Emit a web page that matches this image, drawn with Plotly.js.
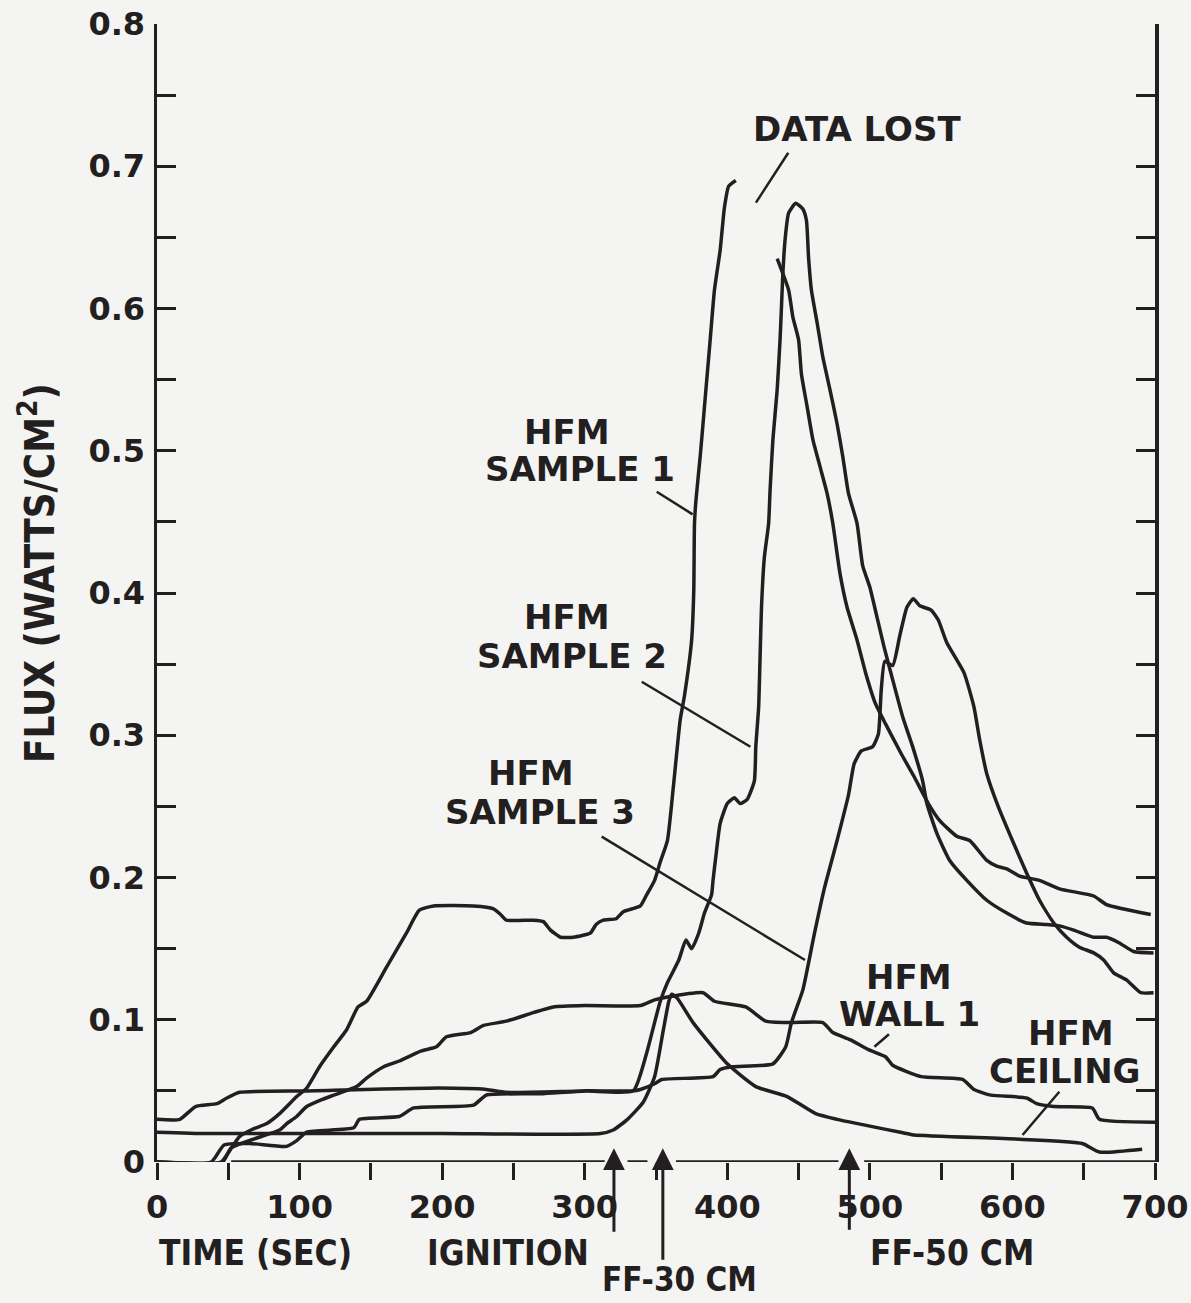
<!DOCTYPE html>
<html><head><meta charset="utf-8">
<script src="https://cdn.plot.ly/plotly-3.0.1.min.js"></script>
<style>html,body{margin:0;padding:0;background:#f4f4f2;}#chart{width:1191px;height:1303px;}</style>
</head><body><div id="chart"></div>
<script>
// ---- data (time in s, flux in W/cm^2) ----
const sample1Time = [0,45,51,58,67,77,86,98,105,114,124,133,141,147,161,175,184,194,222,236,241,245,264,271,276,283,292,304,308,313,322,327,339,343,349,353,358,362,367,370,375,376.5,377,378,381,384,388,391,395,398,401,406,420,435,443,446,450,452,456,460,465,470,474,479,484,491,497,504,511,522,531,541,549,561,570,582,589,596,605,619,633,657,666,697];
const sample1Flux = [0,0,0.008,0.018,0.023,0.027,0.034,0.046,0.052,0.067,0.081,0.093,0.109,0.113,0.137,0.161,0.177,0.180,0.180,0.178,0.174,0.170,0.170,0.169,0.163,0.158,0.158,0.161,0.167,0.170,0.171,0.176,0.180,0.187,0.198,0.211,0.226,0.262,0.311,0.328,0.367,0.402,0.449,0.465,0.496,0.531,0.578,0.613,0.641,0.671,0.686,0.690,null,0.635,0.613,0.594,0.578,0.554,0.531,0.508,0.489,0.470,0.449,0.414,0.390,0.367,0.344,0.322,0.308,0.287,0.271,0.252,0.240,0.229,0.226,0.212,0.208,0.206,0.201,0.198,0.192,0.187,0.181,0.174];

const sample2Time = [0,38,47,65,91,98,105,138,142,170,180,222,231,269,300,334,343,349,353,358,366,371,375,380,384,389,390,392,395,400,405,409,414,419,420,422,423,424,426,429,430,432,435,437,438,439,440.5,443,448,453,455.5,457,459,463,467,472,477,481,485,491,495,500,505,510,516,523,530,537,540,547,556,568,582,596,610,624,633,643,657,666,675,685,699];
const sample2Flux = [0,0,0.012,0.013,0.011,0.015,0.021,0.024,0.030,0.032,0.038,0.040,0.047,0.048,0.050,0.050,0.075,0.098,0.113,0.126,0.142,0.156,0.150,0.161,0.175,0.188,0.198,0.215,0.238,0.252,0.256,0.252,0.255,0.268,0.292,0.320,0.355,0.390,0.425,0.449,0.472,0.508,0.543,0.578,0.601,0.625,0.648,0.667,0.674,0.670,0.662,0.636,0.613,0.590,0.566,0.543,0.519,0.496,0.470,0.449,0.419,0.404,0.383,0.362,0.339,0.313,0.292,0.268,0.252,0.231,0.212,0.198,0.184,0.175,0.168,0.167,0.166,0.163,0.158,0.158,0.154,0.148,0.147];

const sample3Time = [0,16,27,42,49,58,105,198,231,245,300,334,339,349,354,390,395,403,432,441,445,453,461,468,477,485,489,494,502,506,508,510.5,516,521,526,530.5,535,543,548,554,566,573,577,582,590,600,610,619,629,638,647,657,664,671,680,690,699];
const sample3Flux = [0.030,0.030,0.039,0.041,0.045,0.049,0.050,0.052,0.051,0.049,0.050,0.050,0.051,0.055,0.058,0.060,0.065,0.067,0.069,0.081,0.098,0.121,0.160,0.192,0.226,0.258,0.280,0.289,0.292,0.301,0.332,0.352,0.349,0.370,0.390,0.396,0.391,0.388,0.381,0.365,0.344,0.320,0.297,0.273,0.250,0.226,0.203,0.184,0.168,0.158,0.151,0.147,0.142,0.133,0.128,0.119,0.119];

const wall1Time = [0,46,52,86,91,98,105,116,124,140,147,159,170,185,196,203,220,229,245,264,278,300,339,349,358,383,391,413,427,445,467,474,486,499,511,516,536,565,573,585,610,617,629,656,661,700];
const wall1Flux = [0,0,0.010,0.0225,0.027,0.032,0.039,0.044,0.047,0.053,0.059,0.067,0.071,0.078,0.081,0.088,0.091,0.096,0.099,0.105,0.109,0.110,0.110,0.114,0.116,0.119,0.113,0.109,0.099,0.098,0.098,0.091,0.086,0.079,0.074,0.068,0.060,0.058,0.051,0.047,0.045,0.041,0.039,0.038,0.030,0.028];

const ceilingTime = [0,35,105,200,311,320,330,341,349,355,359,361,365,376,400,420,442,462,477,526,531,605,649,661,691];
const ceilingFlux = [0.021,0.020,0.020,0.020,0.020,0.0225,0.030,0.042,0.060,0.092,0.113,0.118,0.115,0.098,0.069,0.053,0.046,0.034,0.030,0.020,0.019,0.016,0.013,0.007,0.009];

const xTickVals = [0,50,100,150,200,250,300,350,400,450,500,550,600,650,700];
const xTickText = ['0','','100','','200','','300','','400','','500','','600','','700'];
const yTickVals = [0,0.05,0.1,0.15,0.2,0.25,0.3,0.35,0.4,0.45,0.5,0.55,0.6,0.65,0.7,0.75,0.8];
const yTickText = ['0','','0.1','','0.2','','0.3','','0.4','','0.5','','0.6','','0.7','','0.8'];

const eventNames = ['IGNITION','FF-30 CM','FF-50 CM'];
const eventTimes = [320.5, 354.8, 485.6];

// ---- styling ----
const INK = '#231f20';
const BOLD = {family:'"DejaVu Sans", sans-serif', size:34, color:INK, weight:'bold'};
const COND = {family:'"DejaVu Sans Condensed", "Liberation Sans Narrow", "DejaVu Sans", sans-serif', size:35, color:INK, weight:'bold'};
const TICKF = {family:'"DejaVu Sans", sans-serif', size:32, color:INK, weight:'bold'};

function series(x, y, name){
  return {x:x, y:y, name:name, type:'scatter', mode:'lines', connectgaps:false,
    line:{color:INK, width:3.5, shape:'spline', smoothing:0.5}, hoverinfo:'skip'};
}
const traces = [
  series(sample1Time, sample1Flux, 'HFM SAMPLE 1'),
  series(sample2Time, sample2Flux, 'HFM SAMPLE 2'),
  series(sample3Time, sample3Flux, 'HFM SAMPLE 3'),
  series(wall1Time, wall1Flux, 'HFM WALL 1'),
  series(ceilingTime, ceilingFlux, 'HFM CEILING')
];

function txt(x, y, text, font, opts){
  return Object.assign({x:x, y:y, xref:'x', yref:'y', text:text, showarrow:false,
    xanchor:'center', yanchor:'middle', font:font}, opts||{});
}
function leader(x0,y0,x1,y1){
  return {type:'line', xref:'x', yref:'y', x0:x0, y0:y0, x1:x1, y1:y1, line:{color:INK, width:2.5}};
}

const annotations = [
  txt(491, 0.726, 'DATA LOST', BOLD),
  txt(287.6, 0.513, 'HFM', BOLD), txt(296.7, 0.487, 'SAMPLE 1', BOLD),
  txt(287.4, 0.383, 'HFM', BOLD), txt(290.9, 0.356, 'SAMPLE 2', BOLD),
  txt(262.2, 0.2735, 'HFM', BOLD), txt(268.6, 0.246, 'SAMPLE 3', BOLD),
  txt(527.5, 0.130, 'HFM', BOLD), txt(527.5, 0.104, 'WALL 1', BOLD),
  txt(641.4, 0.091, 'HFM', BOLD), txt(636.9, 0.064, 'CEILING', BOLD),
  // y axis title
  {xref:'paper', yref:'paper', x:-0.1202, y:0.5176, text:'FLUX (WATTS/CM<sup>2</sup>)', textangle:-90,
   showarrow:false, xanchor:'center', yanchor:'middle', font:Object.assign({}, COND, {size:40})},
  // x axis label and event labels
  {xref:'x', yref:'paper', x:69.4, y:-0.080, text:'TIME (SEC)', showarrow:false, xanchor:'center', yanchor:'middle', font:COND},
  {xref:'x', yref:'paper', x:246.2, y:-0.080, text:eventNames[0], showarrow:false, xanchor:'center', yanchor:'middle', font:COND},
  {xref:'x', yref:'paper', x:366.8, y:-0.1035, text:eventNames[1], showarrow:false, xanchor:'center', yanchor:'middle', font:Object.assign({}, COND, {size:33})},
  {xref:'x', yref:'paper', x:557.6, y:-0.080, text:eventNames[2], showarrow:false, xanchor:'center', yanchor:'middle', font:COND}
];
// event arrows pointing up to the time axis
const arrowTail = [85, 113, 83];
eventTimes.forEach(function(t, i){
  annotations.push({xref:'x', yref:'paper', x:t, y:0.012, text:'', showarrow:true,
    ax:0, ay:arrowTail[i], arrowhead:2, arrowsize:1.45, arrowwidth:3, arrowcolor:INK,
    standoff:0});
});

const shapes = [
  leader(442.8,0.7095,420.1,0.6744),
  leader(350.5,0.4712,375.7,0.4553),
  leader(340,0.3376,416.2,0.2919),
  leader(311.9,0.2287,454.5,0.142),
  leader(513.4,0.0898,503.2,0.081),
  leader(632.9,0.0494,607.1,0.019),
  // bottom axis line, interrupted at the event arrows
  {type:'line', xref:'x', yref:'y', x0:52, x1:314, y0:0, y1:0, line:{color:INK, width:3.5}},
  {type:'line', xref:'x', yref:'y', x0:330, x1:344, y0:0, y1:0, line:{color:INK, width:3.5}},
  {type:'line', xref:'x', yref:'y', x0:364, x1:478, y0:0, y1:0, line:{color:INK, width:3.5}},
  {type:'line', xref:'x', yref:'y', x0:496, x1:700, y0:0, y1:0, line:{color:INK, width:3.5}}
];

const layout = {
  width:1191, height:1303,
  margin:{l:157, r:36, t:24, b:141},
  paper_bgcolor:'#f4f4f2', plot_bgcolor:'#f4f4f2',
  showlegend:false,
  xaxis:{range:[0,700], tickmode:'array', tickvals:xTickVals, ticktext:xTickText,
    ticks:'outside', ticklen:17, tickwidth:3, tickcolor:INK, showline:false, showgrid:false,
    zeroline:false, tickfont:TICKF, ticklabelstandoff:0, fixedrange:true},
  xaxis2:{range:[0,700], overlaying:'x', side:'top', anchor:'y', tickmode:'array', tickvals:xTickVals,
    ticks:'inside', ticklen:18, tickwidth:3, tickcolor:INK, showticklabels:false,
    showline:true, linewidth:3.5, linecolor:INK, showgrid:false, zeroline:false},
  yaxis:{range:[0,0.8], tickmode:'array', tickvals:yTickVals, ticktext:yTickText,
    ticks:'inside', ticklen:19, tickwidth:3, tickcolor:INK, showline:true, linewidth:3.5,
    linecolor:INK, mirror:'ticks', showgrid:false, zeroline:false, tickfont:TICKF, ticklabelstandoff:2},
  annotations:annotations,
  shapes:shapes
};

Plotly.newPlot('chart', traces, layout, {staticPlot:true, displayModeBar:false});
</script>
</body></html>
